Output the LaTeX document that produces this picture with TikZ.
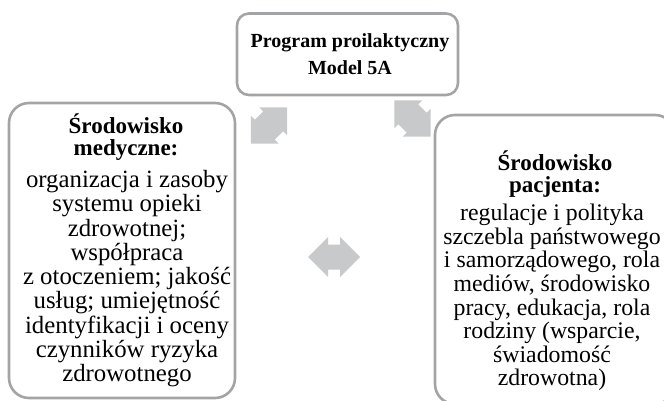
\documentclass[tikz,border=0pt]{standalone}
\usepackage{fontspec}
\setmainfont{Liberation Serif}
\definecolor{framegray}{RGB}{163,164,166}
\definecolor{arrowgray}{RGB}{200,201,202}
\tikzset{
  frame/.style={draw=framegray, line width=2.6pt},
  toptext/.style={align=center, inner sep=0pt, font=\fontsize{20}{27}\selectfont\bfseries},
  headtext/.style={align=center, inner sep=0pt, font=\fontsize{23}{21.5}\selectfont\bfseries},
  bodytext/.style={align=center, inner sep=0pt, font=\fontsize{24.8}{24.3}\selectfont}
}
\begin{document}
\begin{tikzpicture}[x=1pt,y=-1pt]
\useasboundingbox (0,0) rectangle (664,401);
\clip (0,0) rectangle (664,401);

\draw[frame, rounded corners=12pt] (237,13.5) rectangle (458,95);
\draw[frame, rounded corners=20pt] (9,103) rectangle (235,398);
\draw[frame, rounded corners=20pt] (435,115) rectangle (675,404);

\fill[arrowgray, shift={(269,125.5)}, rotate=45] (-25.5,0) -- (-6,19.5) -- (-6,14) -- (6,14) -- (6,19.5) -- (25.5,0) -- (6,-19.5) -- (6,-14) -- (-6,-14) -- (-6,-19.5) -- cycle;
\fill[arrowgray, shift={(412.5,118.5)}, rotate=-45] (-25.5,0) -- (-6,19.5) -- (-6,14) -- (6,14) -- (6,19.5) -- (25.5,0) -- (6,-19.5) -- (6,-14) -- (-6,-14) -- (-6,-19.5) -- cycle;
\fill[arrowgray, shift={(334,257)}] (-26,0) -- (-6,20) -- (-6,12.5) -- (6,12.5) -- (6,20) -- (26,0) -- (6,-20) -- (6,-12.5) -- (-6,-12.5) -- (-6,-20) -- cycle;

\node[toptext, anchor=north] (progTitle) at (350,33.5) {Program proilaktyczny\\Model 5A};

\node[headtext, anchor=north] (medHead) at (126,114) {Środowisko\\medyczne:};
\node[bodytext, anchor=north] (medBody) at (127,170) {organizacja i zasoby\\systemu opieki\\zdrowotnej;\\współpraca\\z otoczeniem; jakość\\usług; umiejętność\\identyfikacji i oceny\\czynników ryzyka\\zdrowotnego};

\node[headtext, anchor=north] (patHead) at (555,151) {Środowisko\\pacjenta:};
\node[bodytext, anchor=north, font=\fontsize{23.8}{23.6}\selectfont] (patBody) at (552,204) {regulacje i polityka\\szczebla państwowego\\i samorządowego, rola\\mediów, środowisko\\pracy, edukacja, rola\\rodziny (wsparcie,\\świadomość\\zdrowotna)};
\end{tikzpicture}
\end{document}
